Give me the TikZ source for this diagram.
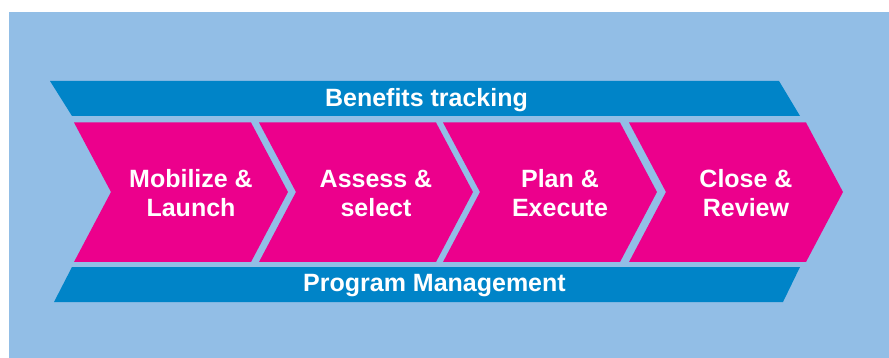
\documentclass[tikz,border=0pt]{standalone}
\usepackage{fontspec}
\setmainfont{Liberation Sans}
\definecolor{bgblue}{RGB}{146,190,230}
\definecolor{barblue}{RGB}{0,132,200}
\definecolor{pinkc}{RGB}{236,0,140}
\begin{document}
\begin{tikzpicture}[x=1pt,y=-1pt,
  bar/.style={fill=barblue,draw=none},
  chev/.style={fill=pinkc,draw=none},
  lbl/.style={text=white,font=\fontsize{25}{29}\selectfont\bfseries,align=center,inner sep=0pt}]
\useasboundingbox (0,0) rectangle (889,358);
\fill[white] (0,0) rectangle (889,358);
\fill[bgblue] (9,12) rectangle (889,358);
% bars
\path[bar] (50,81) -- (779,81) -- (800,116) -- (72,116) -- cycle;
\path[bar] (72,267) -- (800,267) -- (783,302) -- (54,302) -- cycle;
\node[lbl,anchor=base] (top) at (426.5,107) {Benefits tracking};
\node[lbl,anchor=base] (bottom) at (434.5,291.5) {Program Management};
% chevrons
\foreach \L/\name/\txt in {74/c1/{Mobilize \&\\Launch},259/c2/{Assess \&\\select},443/c3/{Plan \&\\Execute},629/c4/{Close \&\\Review}}{
  \path[chev] (\L,122.5) -- ({\L+177},122.5) -- ({\L+214},192) -- ({\L+177},262) -- (\L,262) -- ({\L+37},192) -- cycle;
  \node[lbl] (\name) at ({\L+117},193) {\txt};
}
\end{tikzpicture}
\end{document}
